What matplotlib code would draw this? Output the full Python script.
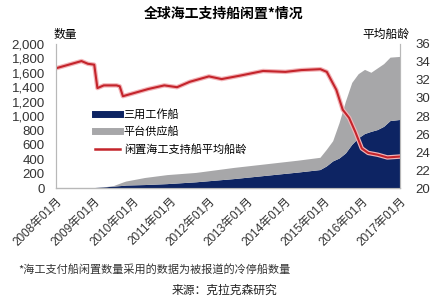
import matplotlib
matplotlib.use('Agg')
import matplotlib.pyplot as plt
import matplotlib.patheffects as pe
import numpy as np

plt.rcParams['font.family'] = ['Liberation Sans', 'Noto Sans CJK SC', 'DejaVu Sans']

# stacked areas: months and values
area_months = ['2008-01', '2009-01', '2009-04', '2009-07', '2009-10', '2009-11', '2010-05',
               '2010-12', '2011-09', '2012-09', '2013-07', '2014-05', '2014-12', '2015-02',
               '2015-04', '2015-06', '2015-08', '2015-10', '2015-12', '2016-02', '2016-04',
               '2016-06', '2016-08', '2016-10', '2017-01']
ahts = [0, 0, 8, 20, 30, 35, 42, 55, 80, 125, 170, 215, 250, 300, 370, 410, 480, 600,
        690, 750, 780, 805, 850, 930, 945]
psv = [0, 0, 2, 5, 45, 55, 98, 125, 130, 155, 160, 165, 170, 230, 280, 490, 720, 860,
       890, 890, 820, 855, 870, 880, 875]

# average age of laid-up vessels
age_months = ['2008-01', '2008-05', '2008-09', '2008-11', '2009-01', '2009-02', '2009-04',
              '2009-08', '2009-09', '2009-10', '2010-03', '2010-06', '2010-11', '2011-03',
              '2011-07', '2012-01', '2012-05', '2012-11', '2013-06', '2014-01', '2014-06',
              '2014-12', '2015-02', '2015-05', '2015-07', '2015-09', '2015-11', '2016-01',
              '2016-03', '2016-06', '2016-09', '2017-01']
avg_age = [33.3, 33.7, 34.1, 33.8, 33.7, 31.1, 31.4, 31.4, 31.3, 30.2, 30.7, 31.0, 31.4,
           31.2, 31.8, 32.4, 32.1, 32.5, 33.0, 32.9, 33.1, 33.2, 32.9, 30.9, 28.7, 27.8,
           26.2, 24.4, 23.9, 23.7, 23.4, 23.5]

years = list(range(2008, 2018))
tick_labels = [f'{y}年01月' for y in years]


def to_month(s):
    y, m = s.split('-')
    return (int(y) - 2008) * 12 + int(m) - 1


xa = np.array([to_month(s) for s in area_months])
xr = np.array([to_month(s) for s in age_months])

fig = plt.figure(figsize=(4.48, 2.99), dpi=100)
ax = fig.add_axes([0.125, 0.371, 0.768, 0.482])
ax2 = ax.twinx()

navy = '#0d2463'
grey = '#a7a7a9'
red = '#c4242b'

ax.stackplot(xa, ahts, psv, colors=[navy, grey], linewidth=0)
ax.set_ylim(0, 2000)
ax.set_yticks(np.arange(0, 2001, 200))
ax.set_yticklabels([f'{v:,}' for v in range(0, 2001, 200)], fontsize=9.5, color='#333333')
ax.set_xlim(0, 108)
ax.set_xticks([to_month(f'{y}-01') for y in years])
ax.set_xticklabels(tick_labels, rotation=45, ha='right', va='top',
                   rotation_mode='anchor', fontsize=8.5, color='#333333')
ax.tick_params(axis='both', length=0, pad=8)
ax.tick_params(axis='x', pad=5)

ax2.plot(xr, avg_age, color=red, lw=1.5,
         path_effects=[pe.Stroke(linewidth=3.2, foreground='#f2b4b8'), pe.Normal()])
ax2.set_ylim(20, 36)
ax2.set_yticks(np.arange(20, 37, 2))
ax2.tick_params(axis='y', length=0, pad=11, labelsize=9.5, labelcolor='#333333')

for a in (ax, ax2):
    a.spines['top'].set_visible(False)
    for s in ('left', 'right', 'bottom'):
        a.spines[s].set_color('#b8b8b8')
        a.spines[s].set_linewidth(0.8)
ax.spines['bottom'].set_color('#555555')

handles = [plt.Line2D([], [], color=navy, lw=5),
           plt.Line2D([], [], color=grey, lw=5),
           plt.Line2D([], [], color=red, lw=1.8)]
labels = ['三用工作船', '平台供应船', '闲置海工支持船平均船龄']
ax2.legend(handles, labels, loc='upper left', bbox_to_anchor=(0.1, 0.58),
           frameon=False, fontsize=8, handlelength=2.3, handletextpad=0.3,
           labelspacing=0.6, borderaxespad=0)

fig.text(0.5, 0.955, '全球海工支持船闲置*情况', ha='center', va='center',
         fontsize=10, fontweight='bold', family=['Noto Sans CJK SC'])
fig.text(0.145, 0.885, '数量', ha='center', va='center', fontsize=8.5,
         family=['Noto Sans CJK SC'])
fig.text(0.862, 0.885, '平均船龄', ha='center', va='center', fontsize=8.5,
         family=['Noto Sans CJK SC'])
fig.text(0.04, 0.098, '*海工支付船闲置数量采用的数据为被报道的冷停船数量', ha='left',
         va='center', fontsize=8, style='italic', color='#333333',
         family=['Noto Sans CJK SC'])
fig.text(0.5, 0.03, '来源：克拉克森研究', ha='center', va='center', fontsize=8.5,
         color='#222222', family=['Noto Sans CJK SC'])

fig.savefig('out.png', dpi=100)
